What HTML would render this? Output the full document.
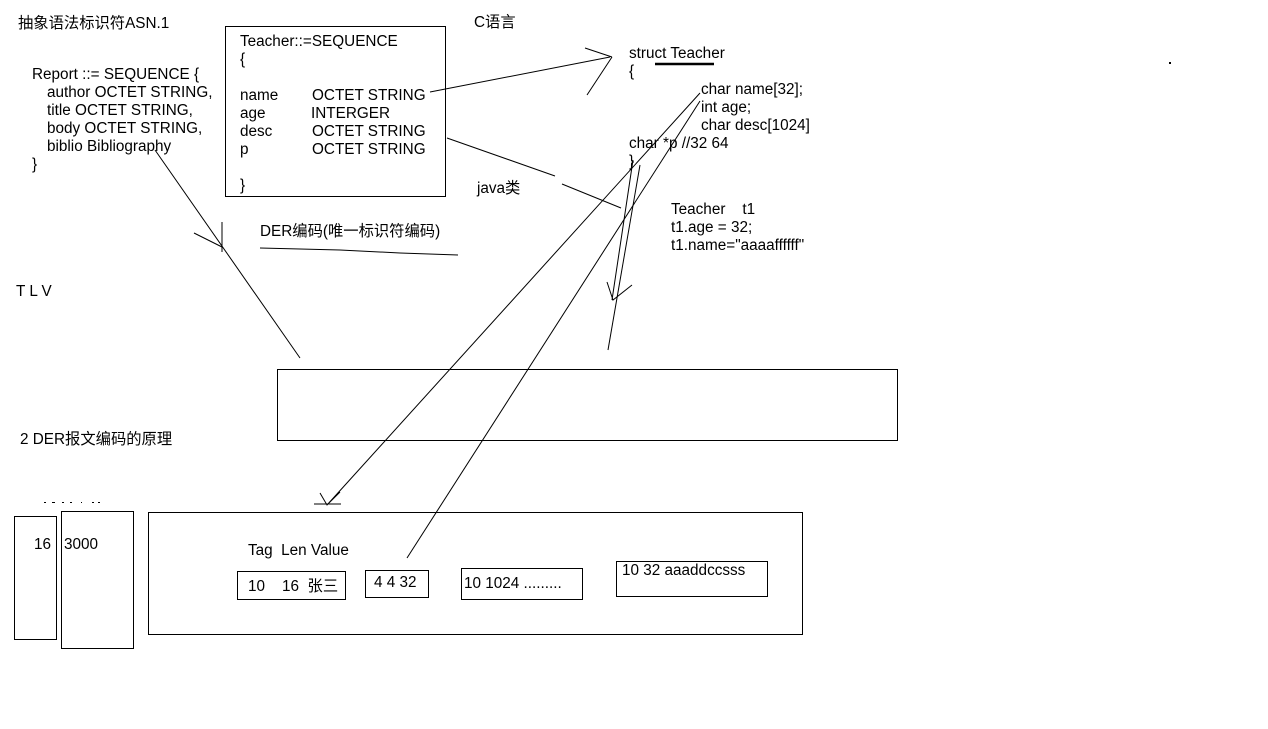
<!DOCTYPE html>
<html><head><meta charset="utf-8"><style>
html,body{margin:0;padding:0;background:#fff;}
svg{display:block;}
text{font-family:"Liberation Sans","Noto Sans CJK SC",sans-serif;font-size:15.3px;fill:#000;white-space:pre;}
</style></head><body>
<svg width="1268" height="729" viewBox="0 0 1268 729" xmlns="http://www.w3.org/2000/svg">
<g fill="none" stroke="#000" stroke-width="1">
<rect x="225.5" y="26.5" width="220" height="170"/>
<rect x="277.5" y="369.5" width="620" height="71"/>
<rect x="14.5" y="516.5" width="42" height="123"/>
<rect x="61.5" y="511.5" width="72" height="137"/>
<rect x="148.5" y="512.5" width="654" height="122"/>
<rect x="237.5" y="571.5" width="108" height="28"/>
<rect x="365.5" y="570.5" width="63" height="27"/>
<rect x="461.5" y="568.5" width="121" height="31"/>
<rect x="616.5" y="561.5" width="151" height="35"/>
<path d="M430 92 L610 57 M585 48 L612 57 M612 57 L587 95"/>
<path d="M447 138 L555 176 M562 184 L621 208"/>
<path d="M155 150 L300 358 M194 233 L222 247 M222 222 L222 252"/>
<path d="M260 248 L340 250 L400 253 L458 255"/>
<path d="M700 93 L327 505 M320 493 L327 505 L340 492 M314 504 L341 504"/>
<path d="M700 101 L407 558"/>
<path d="M633 160 L612 300 M607 282 L613 300 L632 285"/>
<path d="M640 165 L608 350"/>
</g>
<line x1="655" y1="64" x2="714" y2="64" stroke="#000" stroke-width="2.5"/>
<rect x="1169" y="62" width="2" height="2" fill="#000"/>
<g fill="#000"><rect x="44" y="502" width="2" height="1"/><rect x="52" y="502" width="3" height="1"/><rect x="62" y="502" width="2" height="1"/><rect x="70" y="502" width="2" height="1"/><rect x="81" y="502" width="1" height="1"/><rect x="92" y="502" width="2" height="1"/><rect x="98" y="502" width="2" height="1"/></g>

<text x="18" y="28">抽象语法标识符ASN.1</text>
<text x="474" y="27">C语言</text>
<text x="240" y="46">Teacher::=SEQUENCE</text>
<text x="240" y="64">{</text>
<text x="240" y="100">name</text><text x="312" y="100">OCTET STRING</text>
<text x="240" y="118">age</text><text x="311" y="118">INTERGER</text>
<text x="240" y="136">desc</text><text x="312" y="136">OCTET STRING</text>
<text x="240" y="154">p</text><text x="312" y="154">OCTET STRING</text>
<text x="240" y="190">}</text>
<text x="32" y="79">Report ::= SEQUENCE {</text>
<text x="47" y="97">author OCTET STRING,</text>
<text x="47" y="115">title OCTET STRING,</text>
<text x="47" y="133">body OCTET STRING,</text>
<text x="47" y="151">biblio Bibliography</text>
<text x="32" y="169">}</text>
<text x="629" y="58">struct Teacher</text>
<text x="629" y="76">{</text>
<text x="701" y="94">char name[32];</text>
<text x="701" y="112">int age;</text>
<text x="701" y="130">char desc[1024]</text>
<text x="629" y="148">char *p //32 64</text>
<text x="629" y="166">}</text>
<text x="477" y="193">java类</text>
<text x="671" y="214">Teacher    t1</text>
<text x="671" y="232">t1.age = 32;</text>
<text x="671" y="250">t1.name="aaaaffffff"</text>
<text x="260" y="236">DER编码(唯一标识符编码)</text>
<text x="16" y="296">T L V</text>
<text x="20" y="444">2 DER报文编码的原理</text>
<text x="34" y="549">16</text>
<text x="64" y="549">3000</text>
<text x="248" y="555">Tag  Len Value</text>
<text x="248" y="591">10    16  张三</text>
<text x="374" y="587">4 4 32</text>
<text x="464" y="588">10 1024 .........</text>
<text x="622" y="575">10 32 aaaddccsss</text>
</svg>
</body></html>
